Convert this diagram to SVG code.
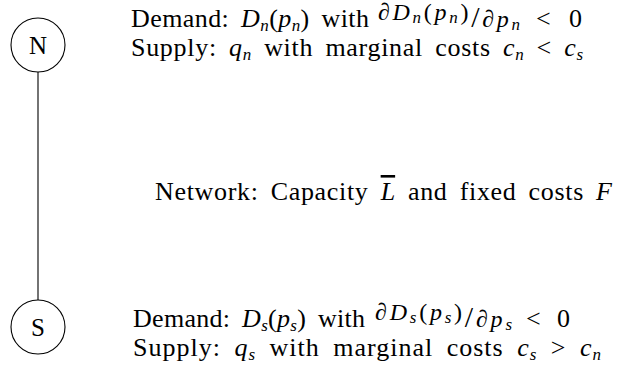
<svg xmlns="http://www.w3.org/2000/svg" width="626" height="372" viewBox="0 0 626 372">
<style>
.bg{fill:#fff}
.node circle{fill:#fff;stroke:#000;stroke-width:1.1}
.lbl{font-family:"Liberation Serif","Times New Roman",serif;font-size:25px;fill:#000;text-anchor:middle}
.t{font-family:"Liberation Serif","Times New Roman",serif;font-size:26px;fill:#000;white-space:pre}
.i{font-style:italic}
.s{font-size:17px;font-style:italic}
.f{font-size:24px}
.fs{font-size:17px;font-style:italic}
.sl{font-size:30px}
.edge{stroke:#000;stroke-width:1.1;fill:none}
.ov{text-decoration:overline}
</style>
<rect class="bg" x="0" y="0" width="626" height="372"/>
<g id="connectors">
<line class="edge" x1="38" y1="72" x2="38" y2="300"/>
</g>
<g id="node-N" class="node">
<circle cx="38" cy="45" r="27"/>
<text class="lbl" x="38" y="53.5">N</text>
</g>
<g id="node-S" class="node">
<circle cx="38" cy="327" r="27"/>
<text class="lbl" x="38" y="335.5">S</text>
</g>
<g id="text-N">
<text class="t" x="131" y="27" style="word-spacing:5px" textLength="238" lengthAdjust="spacing" xml:space="preserve">Demand: <tspan class="i">D</tspan><tspan class="s" dy="3.5">n</tspan><tspan dy="-3.5">(</tspan><tspan class="i">p</tspan><tspan class="s" dy="3.5">n</tspan><tspan dy="-3.5">) with</tspan></text>
<text class="t" x="378" y="27" textLength="142" lengthAdjust="spacing"><tspan class="f i" dy="-7">∂D</tspan><tspan class="fs" dy="3">n</tspan><tspan class="f" dy="-3">(</tspan><tspan class="f i">p</tspan><tspan class="fs" dy="3">n</tspan><tspan class="f" dy="-3">)</tspan><tspan class="sl" dy="7">/</tspan><tspan class="f i">∂p</tspan><tspan class="fs" dy="3">n</tspan></text>
<text class="t" x="536" y="27" textLength="46" lengthAdjust="spacing" xml:space="preserve">&lt; 0</text>
<text class="t" x="131" y="56" style="word-spacing:5px" textLength="452" lengthAdjust="spacing" xml:space="preserve">Supply: <tspan class="i">q</tspan><tspan class="s" dy="3.5">n</tspan><tspan dy="-3.5"> with marginal costs </tspan><tspan class="i">c</tspan><tspan class="s" dy="3.5">n</tspan><tspan dy="-3.5"> &lt; </tspan><tspan class="i">c</tspan><tspan class="s" dy="3.5">s</tspan></text>
</g>
<g id="text-network">
<text class="t" x="155" y="200" style="word-spacing:5px" textLength="457" lengthAdjust="spacing" xml:space="preserve">Network: Capacity <tspan class="i ov">L</tspan> and fixed costs <tspan class="i">F</tspan></text>
</g>
<g id="text-S">
<text class="t" x="133" y="327" style="word-spacing:5px" textLength="232" lengthAdjust="spacing" xml:space="preserve">Demand: <tspan class="i">D</tspan><tspan class="s" dy="3.5">s</tspan><tspan dy="-3.5">(</tspan><tspan class="i">p</tspan><tspan class="s" dy="3.5">s</tspan><tspan dy="-3.5">) with</tspan></text>
<text class="t" x="375" y="327" textLength="137" lengthAdjust="spacing"><tspan class="f i" dy="-7">∂D</tspan><tspan class="fs" dy="3">s</tspan><tspan class="f" dy="-3">(</tspan><tspan class="f i">p</tspan><tspan class="fs" dy="3">s</tspan><tspan class="f" dy="-3">)</tspan><tspan class="sl" dy="7">/</tspan><tspan class="f i">∂p</tspan><tspan class="fs" dy="3">s</tspan></text>
<text class="t" x="526" y="327" textLength="44" lengthAdjust="spacing" xml:space="preserve">&lt; 0</text>
<text class="t" x="133" y="356" style="word-spacing:6px" textLength="468" lengthAdjust="spacing" xml:space="preserve">Supply: <tspan class="i">q</tspan><tspan class="s" dy="3.5">s</tspan><tspan dy="-3.5"> with marginal costs </tspan><tspan class="i">c</tspan><tspan class="s" dy="3.5">s</tspan><tspan dy="-3.5"> &gt; </tspan><tspan class="i">c</tspan><tspan class="s" dy="3.5">n</tspan></text>
</g>
</svg>
